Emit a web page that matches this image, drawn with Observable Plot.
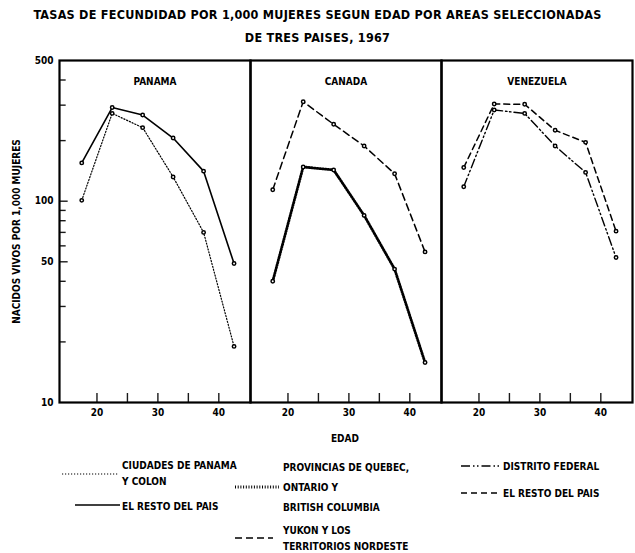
<!DOCTYPE html>
<html><head><meta charset="utf-8">
<script src="https://cdn.jsdelivr.net/npm/d3@7"></script>
<script src="https://cdn.jsdelivr.net/npm/@observablehq/plot@0.6"></script>
<style>
body{margin:0;background:#fff;}
#wrap{position:relative;width:635px;height:553px;font-family:"DejaVu Sans Condensed","DejaVu Sans",sans-serif;font-weight:bold;color:#000;overflow:hidden;}
#title{position:absolute;left:0;top:3px;width:635px;text-align:center;font-size:12.5px;line-height:23px;letter-spacing:0.25px;}
#chart{position:absolute;left:0;top:50px;}
#legend{position:absolute;left:0;top:450px;}
#xlab{position:absolute;left:345px;top:433px;transform:translateX(-50%);font-size:10px;}
</style></head><body>
<div id="wrap">
  <div id="title">TASAS DE FECUNDIDAD POR 1,000 MUJERES SEGUN EDAD POR AREAS SELECCIONADAS<br>DE TRES PAISES, 1967</div>
  <div id="chart"></div>
  <div id="xlab">EDAD</div>
  <div id="legend"></div>
</div>
<script>
// ---- data ----
const countries = ["PANAMA", "CANADA", "VENEZUELA"];
const ages = [17.5, 22.5, 27.5, 32.5, 37.5, 42.5];
const panamaCiudades = [101, 273, 232, 132, 70, 19];
const panamaResto = [155, 292, 268, 206, 141, 49];
const canadaProvincias = [40, 148, 143, 85, 46, 15.8];
const canadaYukon = [114, 312, 241, 188, 137, 56];
const venezuelaDF = [118, 284, 273, 188, 139, 52.5];
const venezuelaResto = [147, 304, 303, 225, 196, 71];
const yTickLabels = [10, 50, 100, 500];
const yMinorTicks = [20, 30, 40, 60, 70, 80, 90, 200, 300, 400];
const xTicks = [20, 25, 30, 35, 40];
const xTickLabels = [20, 30, 40];

// ---- styles ----
const FONT = '"DejaVu Sans Condensed","DejaVu Sans",sans-serif';
const styles = {
  ciudades: {dash: "1.2,1.8", w: 1.2},
  resto: {dash: null, w: 1.6},
  provincias: {dash: "1,1.7", w: 2.8},
  yukon: {dash: "7,4", w: 1.5},
  df: {dash: "9,3,1.5,2.5,1.5,3", w: 1.4},
  vresto: {dash: "6,4", w: 1.5}
};
const rows = (country, values) => ages.map((age, i) => ({country, age, value: values[i]}));
const series = [
  {data: rows("PANAMA", panamaCiudades), ...styles.ciudades},
  {data: rows("PANAMA", panamaResto), ...styles.resto},
  {data: rows("CANADA", canadaProvincias), ...styles.provincias},
  {data: rows("CANADA", canadaYukon), ...styles.yukon},
  {data: rows("VENEZUELA", venezuelaDF), ...styles.df},
  {data: rows("VENEZUELA", venezuelaResto), ...styles.vresto}
];

const W = 635, H = 400, MT = 10, MB = 48, ML = 58, MR = 3;
const frameH = H - MT - MB;
const panelW = (W - ML - MR) / countries.length;

const marks = [];
for (const s of series) {
  marks.push(Plot.line(s.data, {x: "age", y: "value", fx: "country", stroke: "black", strokeWidth: s.w, strokeDasharray: s.dash}));
}
for (const s of series) {
  marks.push(Plot.dot(s.data, {x: "age", y: "value", fx: "country", r: 1.7, fill: "white", stroke: "black"}));
}

const plot = Plot.plot({
  width: W,
  height: H,
  marginTop: MT,
  marginBottom: MB,
  marginLeft: ML,
  marginRight: MR,
  style: {fontFamily: FONT, fontWeight: "bold", fontSize: "10px", color: "black", background: "white"},
  fx: {domain: countries, padding: 0, axis: null},
  x: {domain: [13.85, 45.2]},
  y: {type: "log", domain: [10, 500]},
  marks: [
    Plot.axisY({ticks: yTickLabels, tickSize: 0, tickPadding: 6, label: "NACIDOS VIVOS POR 1,000 MUJERES", labelAnchor: "center", labelArrow: "none", labelOffset: 47}),
    Plot.axisX({ticks: xTickLabels, tickSize: 0, tickPadding: 6, label: null}),
    Plot.tickY(yMinorTicks, {y: d => d, fx: () => "PANAMA", insetRight: panelW - 7, stroke: "#1a1a1a", strokeWidth: 1.4}),
    Plot.tickY([50, 100], {y: d => d, fx: () => "PANAMA", insetRight: panelW - 9, stroke: "#1a1a1a", strokeWidth: 1.4}),
    Plot.tickX(xTicks, {x: d => d, insetTop: frameH - 9, stroke: "#1a1a1a", strokeWidth: 1.4}),
    ...marks,
    Plot.text(countries, {fx: d => d, text: d => d, frameAnchor: "top", dy: 17}),
    Plot.frame({stroke: "black", strokeWidth: 2.2})
  ]
});
document.getElementById("chart").appendChild(plot);

// ---- legend ----
const legendItems = [
  {x1: 62, x2: 118, y: 474, st: styles.ciudades, lines: ["CIUDADES DE PANAMA", "Y COLON"], tx: 122, ty: [465, 481]},
  {x1: 75, x2: 120, y: 505, st: styles.resto, lines: ["EL RESTO DEL PAIS"], tx: 122, ty: [506]},
  {x1: 235, x2: 279, y: 487, st: styles.provincias, lines: ["PROVINCIAS DE QUEBEC,", "ONTARIO Y", "BRITISH COLUMBIA"], tx: 283, ty: [467, 487, 507]},
  {x1: 235, x2: 273, y: 538, st: styles.yukon, lines: ["YUKON Y LOS", "TERRITORIOS NORDESTE"], tx: 283, ty: [530, 546]},
  {x1: 461, x2: 501, y: 466, st: styles.df, lines: ["DISTRITO FEDERAL"], tx: 503, ty: [466]},
  {x1: 461, x2: 501, y: 493, st: styles.vresto, lines: ["EL RESTO DEL PAIS"], tx: 503, ty: [493]}
];
const top0 = 450;
const lsvg = d3.create("svg").attr("width", 635).attr("height", 103)
  .style("font-family", FONT).style("font-weight", "bold").style("font-size", "10px");
for (const it of legendItems) {
  lsvg.append("line").attr("x1", it.x1).attr("x2", it.x2).attr("y1", it.y - top0).attr("y2", it.y - top0)
    .attr("stroke", "black").attr("stroke-width", it.st.w).attr("stroke-dasharray", it.st.dash);
  it.lines.forEach((t, i) => {
    lsvg.append("text").attr("x", it.tx).attr("y", it.ty[i] - top0).attr("dy", "0.35em").text(t);
  });
}
document.getElementById("legend").appendChild(lsvg.node());
</script>
</body></html>
